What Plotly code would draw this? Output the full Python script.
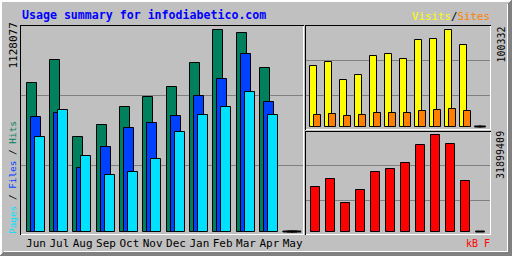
import plotly.graph_objects as go

# ---------------- data ----------------
months = ["Jun", "Jul", "Aug", "Sep", "Oct", "Nov", "Dec", "Jan", "Feb", "Mar", "Apr", "May"]
hits = [829700, 955800, 527900, 594600, 694600, 750200, 805800, 939200, 1128077, 1105900, 911400, 0]
files = [639100, 661300, 355700, 474000, 577900, 605700, 644600, 755800, 850200, 990800, 722400, 0]
pages = [527900, 679600, 424000, 312900, 333400, 405700, 555700, 650200, 694600, 778000, 650200, 0]
visits = [62450, 66545, 48120, 53237, 72690, 74737, 69618, 89070, 90093, 100332, 83950, 0]
sites = [12285, 13309, 11262, 12285, 14333, 14333, 14333, 16381, 17404, 18428, 16381, 0]
kbytes = [14648000, 17349000, 9440000, 13671000, 19530000, 20507000, 22460000,
          28320000, 31899409, 28644000, 16600000, 0]
title = "Usage summary for infodiabetico.com"

# ---------------- styling ----------------
W, H = 512, 256
GREY, DKGREY = "#C0C0C0", "#808080"
C_HITS, C_FILES, C_PAGES = "#00805C", "#0040FF", "#00E0FF"
C_VISITS, C_SITES, C_KB = "#FFFF00", "#FF8000", "#FF0000"
MONO = "DejaVu Sans Mono"


def px(x):
    return x / W


def py(y):
    return 1 - y / H


idx = list(range(len(months)))
line = dict(color="black", width=1)

fig = go.Figure()


def add_bars(series, slot, xa, ya):
    """series: list of (values, colour, offset_px, width_px)"""
    zx, zy = [], []
    for vals, col, off, w in series:
        fig.add_trace(go.Bar(x=idx, y=vals, marker=dict(color=col, line=line),
                             width=w / slot, offset=off / slot, xaxis=xa, yaxis=ya,
                             showlegend=False, hoverinfo="skip"))
        # zero-valued bars are drawn by webalizer as a flat outline on the baseline
        for i, v in zip(idx, vals):
            if v == 0:
                zx += [i + off / slot, i + (off + w) / slot, None]
                zy += [0, 0, None]
    if zx:
        fig.add_trace(go.Scatter(x=zx, y=zy, mode="lines", line=dict(color="black", width=2),
                                 xaxis=xa, yaxis=ya, showlegend=False, hoverinfo="skip"))


# main panel: hits / files / pages (slot = 23.333 px, month centre = 36 px + i*slot)
SLOT_M = 280 / 12
add_bars([(hits, C_HITS, -9.5, 10), (files, C_FILES, -5.5, 10), (pages, C_PAGES, -1.5, 10)],
         SLOT_M, "x", "y")

# top-right: visits / sites (slot 15 px, centre 315 + i*15)
SLOT_R = 15
add_bars([(visits, C_VISITS, -5.5, 7), (sites, C_SITES, -1.5, 7)], SLOT_R, "x2", "y2")

# bottom-right: kbytes
add_bars([(kbytes, C_KB, -4.5, 9)], SLOT_R, "x3", "y3")

# ---------------- axes ----------------
def yrange(vmax, top_px, max_px, base_px, bottom_px):
    k = vmax / (base_px - max_px)
    return [-(bottom_px - base_px) * k, (base_px - top_px) * k]


hidden = dict(showgrid=False, zeroline=False, showline=False, ticks="", fixedrange=True)

fig.update_layout(
    width=W, height=H, margin=dict(l=0, r=0, t=0, b=0),
    paper_bgcolor=GREY, plot_bgcolor="rgba(0,0,0,0)",
    barmode="overlay", bargap=0,
    xaxis=dict(domain=[px(21), px(303)], range=[(21 - 36) / SLOT_M, (303 - 36) / SLOT_M],
               tickmode="array", tickvals=idx, ticktext=months,
               tickfont=dict(family=MONO, size=11, color="black"), anchor="y",
               ticklabelstandoff=1, **hidden),
    yaxis=dict(domain=[py(234), py(26)], range=yrange(max(hits), 26, 29.5, 231.5, 234),
               showticklabels=False, anchor="x", **hidden),
    xaxis2=dict(domain=[px(306), px(490)], range=[(306 - 315) / SLOT_R, (490 - 315) / SLOT_R],
                showticklabels=False, anchor="y2", **hidden),
    yaxis2=dict(domain=[py(129), py(26)], range=yrange(max(visits), 26, 29.5, 126.5, 129),
                showticklabels=False, anchor="x2", **hidden),
    xaxis3=dict(domain=[px(306), px(490)], range=[(306 - 315) / SLOT_R, (490 - 315) / SLOT_R],
                showticklabels=False, anchor="y3", **hidden),
    yaxis3=dict(domain=[py(234), py(132)], range=yrange(max(kbytes), 132, 134.5, 231.5, 234),
                showticklabels=False, anchor="x3", **hidden),
)

# ---------------- decoration shapes ----------------
shapes = []


def hline(row, c0, c1, color, layer="above", width=1):
    shapes.append(dict(type="line", xref="paper", yref="paper", x0=px(c0), x1=px(c1 + 1),
                       y0=py(row + 0.5), y1=py(row + 0.5), line=dict(color=color, width=width),
                       layer=layer))


def vline(col, r0, r1, color, layer="above", width=1):
    shapes.append(dict(type="line", xref="paper", yref="paper", x0=px(col + 0.5), x1=px(col + 0.5),
                       y0=py(r0), y1=py(r1 + 1), line=dict(color=color, width=width), layer=layer))


# grid lines
for r in (95, 165):
    hline(r, 21, 302, DKGREY, "below")
for r in (60, 95):
    hline(r, 306, 489, DKGREY, "below")
for r in (165, 200):
    hline(r, 306, 489, DKGREY, "below")

# inset panels: black top/left, white bottom/right
for (l, t, r, b) in [(20, 25, 303, 234), (305, 25, 490, 129), (305, 131, 490, 234)]:
    hline(t, l, r, "black")
    vline(l, t, b, "black")
    hline(b, l + 1, r, "white")
    vline(r, t + 1, b, "white")

# outer 3D frame
hline(0, 0, 511, "white")
vline(0, 0, 255, "white")
hline(1, 1, 510, "white")
vline(1, 1, 254, "white")
for i in range(4):
    hline(255 - i, i, 511, DKGREY)
    vline(511 - i, i, 255, DKGREY)
hline(251, 4, 507, "white")
vline(507, 4, 251, "white")

fig.update_layout(shapes=shapes)

# ---------------- texts ----------------
ann = []
ann.append(dict(text=f"<b>{title}</b>", x=px(20), y=py(15), xanchor="left", yanchor="middle",
                font=dict(family=MONO, size=11.6, color="#0000FF")))
ann.append(dict(text=f"<span style='color:{C_VISITS}'>Visits</span>/"
                     f"<span style='color:{C_SITES}'>Sites</span>",
                x=px(451), y=py(16.5), xanchor="center", yanchor="middle",
                font=dict(family=MONO, size=10.8, color="black")))
ann.append(dict(text=str(max(hits)), x=px(12.5), y=py(46), textangle=-90,
                xanchor="center", yanchor="middle", font=dict(family=MONO, size=11, color="black")))
ann.append(dict(text=str(max(visits)), x=px(500.5), y=py(45), textangle=-90,
                xanchor="center", yanchor="middle", font=dict(family=MONO, size=10, color="black")))
ann.append(dict(text=str(max(kbytes)), x=px(500.5), y=py(155.5), textangle=-90,
                xanchor="center", yanchor="middle", font=dict(family=MONO, size=10, color="black")))
ann.append(dict(text=f"<span style='color:{C_PAGES}'>Pages</span> / "
                     f"<span style='color:{C_FILES}'>Files</span> / "
                     f"<span style='color:{C_HITS}'>Hits</span>",
                x=px(12.5), y=py(177.5), textangle=-90, xanchor="center", yanchor="middle",
                font=dict(family=MONO, size=9.4, color="black")))
ann.append(dict(text="kB F", x=px(478), y=py(243), xanchor="center", yanchor="middle",
                font=dict(family=MONO, size=10, color=C_KB)))
for a in ann:
    a.update(xref="paper", yref="paper", showarrow=False)
fig.update_layout(annotations=ann)

fig.write_html("out.html", config={"displayModeBar": False})
